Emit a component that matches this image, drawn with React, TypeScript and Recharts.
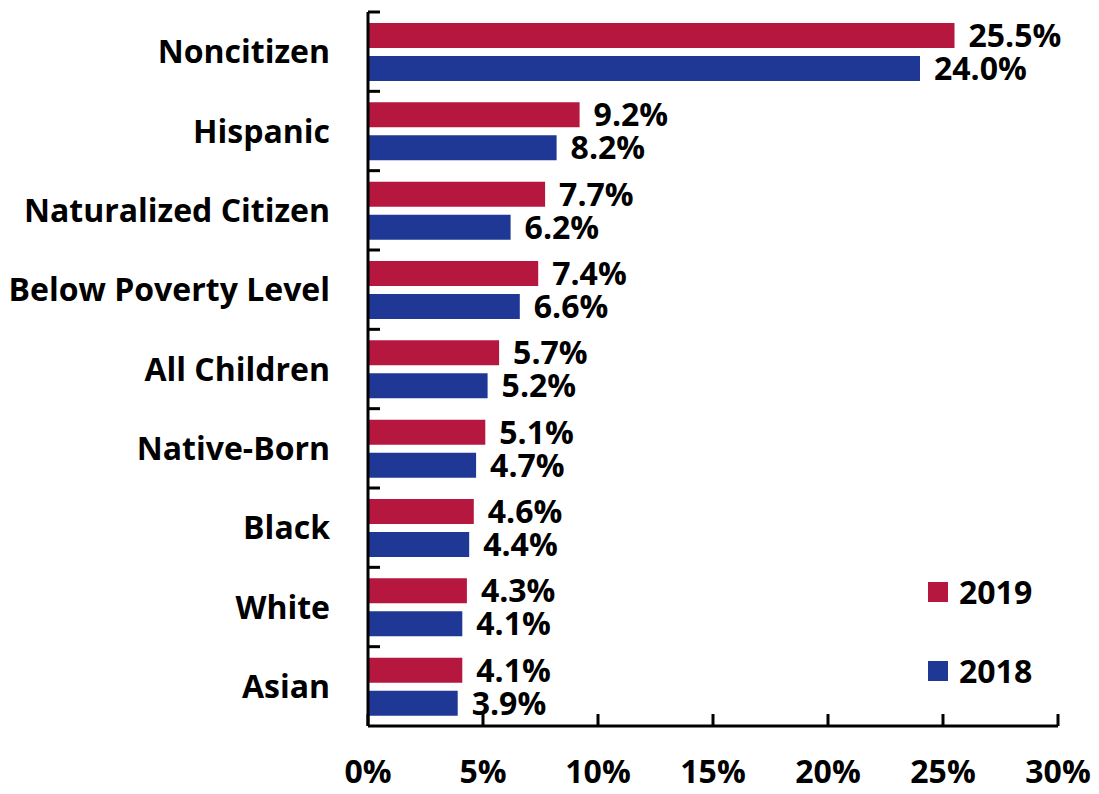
import { Bar, BarChart, LabelList, XAxis, YAxis } from "recharts";

const groups = [
  "Noncitizen",
  "Hispanic",
  "Naturalized Citizen",
  "Below Poverty Level",
  "All Children",
  "Native-Born",
  "Black",
  "White",
  "Asian",
];
const rate2019 = [25.5, 9.2, 7.7, 7.4, 5.7, 5.1, 4.6, 4.3, 4.1];
const rate2018 = [24.0, 8.2, 6.2, 6.6, 5.2, 4.7, 4.4, 4.1, 3.9];
const xTicks = [0, 5, 10, 15, 20, 25, 30];

const data = groups.map((g, i) => ({ group: g, y2019: rate2019[i], y2018: rate2018[i] }));

const series = [
  { key: "y2019", name: "2019", color: "#b5173f" },
  { key: "y2018", name: "2018", color: "#1f3795" },
];

const FONT = "'Open Sans', sans-serif";
const FS = 32;
const W = 1091;
const H = 786;
const TOP = 4;
const XH = 68;
const BAND = (H - TOP - XH) / groups.length;

function CategoryTick(props: any) {
  const { x, y, payload } = props;
  return (
    <g>
      <line x1={x + 38} x2={x + 50} y1={y - BAND / 2} y2={y - BAND / 2} stroke="#000" strokeWidth={3} />
      <text x={x} y={y} dy="0.36em" textAnchor="end" fontSize={FS} fontWeight={700} fill="#000">
        {payload.value}
      </text>
    </g>
  );
}

const pct = (v: any) => `${Number(v).toFixed(1)}%`;

export default function App() {
  return (
    <div style={{ position: "relative", width: W, height: H, fontFamily: FONT }}>
      <BarChart
        width={W}
        height={H}
        data={data}
        layout="vertical"
        margin={{ top: TOP, right: 41, bottom: 0, left: 0 }}
        barSize={25}
        barGap={8}
      >
        <XAxis
          type="number"
          domain={[0, 30]}
          ticks={xTicks}
          height={XH}
          tickFormatter={(v) => `${v}%`}
          axisLine={{ stroke: "#000", strokeWidth: 3 }}
          tickLine={{ stroke: "#000", strokeWidth: 3 }}
          tickSize={-12}
          tickMargin={46}
          tick={{ fill: "#000", fontSize: FS, fontWeight: 700 }}
        />
        <YAxis
          type="category"
          dataKey="group"
          width={360}
          axisLine={{ stroke: "#000", strokeWidth: 3 }}
          tickLine={false}
          tickSize={0}
          tickMargin={38}
          interval={0}
          tick={<CategoryTick />}
        />
        {series.map((s) => (
          <Bar key={s.key} dataKey={s.key} name={s.name} fill={s.color} isAnimationActive={false}>
            <LabelList dataKey={s.key} position="right" offset={14} formatter={pct} fill="#000" fontSize={FS} fontWeight={700} />
          </Bar>
        ))}
      </BarChart>
      <div style={{ position: "absolute", left: 920, top: 544 }}>
        {series.map((s) => (
          <div key={s.key} style={{ display: "flex", alignItems: "center", height: 79 }}>
            <span style={{ width: 20, height: 20, background: s.color, display: "inline-block", marginRight: 11 }} />
            <span style={{ fontSize: FS, fontWeight: 700, color: "#000" }}>{s.name}</span>
          </div>
        ))}
      </div>
    </div>
  );
}
